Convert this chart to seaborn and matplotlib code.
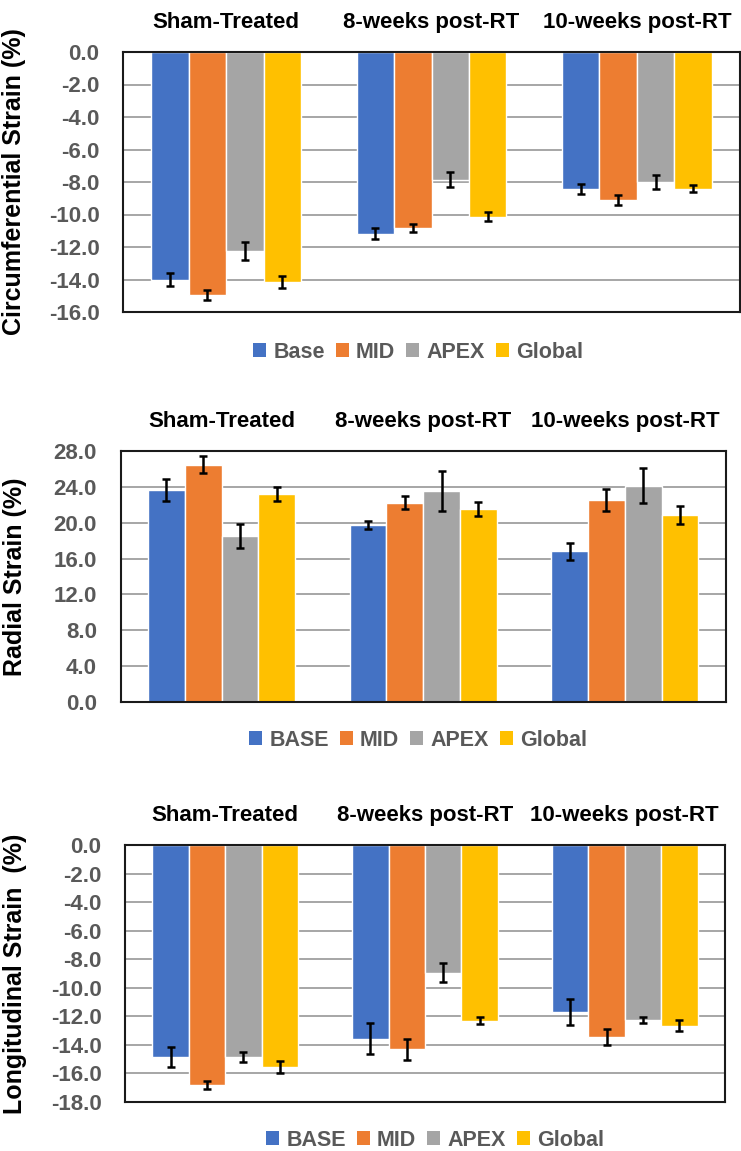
import numpy as np
import pandas as pd
import matplotlib.pyplot as plt
import seaborn as sns
from matplotlib.patches import Patch

sns.set_theme(style="white")
plt.rcParams['font.family'] = ['Liberation Sans', 'DejaVu Sans']

groups = ["Sham-Treated", "8-weeks post-RT", "10-weeks post-RT"]
regions = ["Base", "MID", "APEX", "Global"]
colors = ["#4472C4", "#ED7D31", "#A5A5A5", "#FFC000"]

# Circumferential strain (%)
circ_base = [-14.0, -11.17, -8.42]
circ_mid = [-14.96, -10.82, -9.10]
circ_apex = [-12.25, -7.85, -8.01]
circ_global = [-14.14, -10.14, -8.42]
circ_base_err = [0.40, 0.34, 0.30]
circ_mid_err = [0.33, 0.26, 0.30]
circ_apex_err = [0.57, 0.48, 0.44]
circ_global_err = [0.38, 0.27, 0.22]

# Radial strain (%)
rad_base = [23.65, 19.75, 16.82]
rad_mid = [26.48, 22.24, 22.54]
rad_apex = [18.49, 23.58, 24.14]
rad_global = [23.21, 21.57, 20.83]
rad_base_err = [1.20, 0.48, 0.93]
rad_mid_err = [0.93, 0.70, 1.19]
rad_apex_err = [1.36, 2.23, 1.97]
rad_global_err = [0.78, 0.78, 1.02]

# Longitudinal strain (%)
lon_base = [-14.84, -13.56, -11.69]
lon_mid = [-16.83, -14.31, -13.46]
lon_apex = [-14.84, -8.93, -12.27]
lon_global = [-15.54, -12.30, -12.65]
lon_base_err = [0.68, 1.06, 0.90]
lon_mid_err = [0.29, 0.72, 0.55]
lon_apex_err = [0.34, 0.69, 0.20]
lon_global_err = [0.41, 0.23, 0.36]

panels = [
    dict(vals=[circ_base, circ_mid, circ_apex, circ_global],
         errs=[circ_base_err, circ_mid_err, circ_apex_err, circ_global_err],
         ylabel="Circumferential Strain (%)", ylim=(-16, 0), step=2,
         legend=["Base", "MID", "APEX", "Global"],
         rect=[123/741, 1-312/1151, 617/741, 260/1151], lab_x=-0.157, leg=(418/741, 1-352/1151)),
    dict(vals=[rad_base, rad_mid, rad_apex, rad_global],
         errs=[rad_base_err, rad_mid_err, rad_apex_err, rad_global_err],
         ylabel="Radial Strain (%)", ylim=(0, 28), step=4,
         legend=["BASE", "MID", "APEX", "Global"],
         rect=[120.5/741, 1-702/1151, 605.5/741, 251/1151], lab_x=-0.154, leg=(418/741, 1-740/1151)),
    dict(vals=[lon_base, lon_mid, lon_apex, lon_global],
         errs=[lon_base_err, lon_mid_err, lon_apex_err, lon_global_err],
         ylabel="Longitudinal Strain  (%)", ylim=(-18, 0), step=2,
         legend=["BASE", "MID", "APEX", "Global"],
         rect=[125/741, 1-1102/1151, 600/741, 257/1151], lab_x=-0.163, leg=(435/741, 1-1140/1151)),
]

fig = plt.figure(figsize=(7.41, 11.51), dpi=100)

for p in panels:
    ax = fig.add_axes(p['rect'])
    df = pd.DataFrame({
        'group': groups * 4,
        'region': np.repeat(regions, 3),
        'value': np.concatenate(p['vals']),
    })
    sns.barplot(data=df, x='group', y='value', hue='region', hue_order=regions,
                order=groups, palette=colors, saturation=1, width=0.73, gap=0,
                errorbar=None, legend=False, ax=ax, zorder=2)
    bar_sets = list(ax.containers)
    for i, cont in enumerate(bar_sets):
        xs = [b.get_x() + b.get_width() / 2 for b in cont]
        ax.errorbar(xs, p['vals'][i], yerr=p['errs'][i], fmt='none', ecolor='black',
                    elinewidth=1.8, capsize=3, capthick=1.8, zorder=3)

    lo, hi = p['ylim']
    ax.set_ylim(lo, hi)
    ax.set_yticks(np.arange(lo, hi + 0.1, p['step']))
    ax.yaxis.set_major_formatter(plt.FormatStrFormatter('%.1f'))
    ax.grid(axis='y', color='#A6A6A6', linewidth=1.4, zorder=0)
    ax.set_axisbelow(True)
    ax.xaxis.tick_top()
    ax.tick_params(axis='x', length=0, pad=14, labelsize=16, labelcolor='black')
    ax.tick_params(axis='y', length=0, pad=17, labelsize=16, labelcolor='#595959')
    for t in ax.get_xticklabels() + ax.get_yticklabels():
        t.set_fontweight('bold')
    ax.set_xlabel('')
    ax.set_ylabel(p['ylabel'], fontsize=18, fontweight='bold', color='black')
    ax.yaxis.set_label_coords(p['lab_x'], 0.5)
    for s in ax.spines.values():
        s.set_visible(True)
        s.set_color('#1a1a1a')
        s.set_linewidth(1.5)

    handles = [Patch(facecolor=c, edgecolor='none', label=l) for c, l in zip(colors, p['legend'])]
    fig.legend(handles=handles, loc='center', bbox_to_anchor=p['leg'], ncol=4, frameon=False,
               handlelength=0.62, handleheight=0.62, handletextpad=0.33, columnspacing=0.5,
               prop={'weight': 'bold', 'size': 15.5}, labelcolor='#595959')

plt.savefig('out.png', dpi=100)
